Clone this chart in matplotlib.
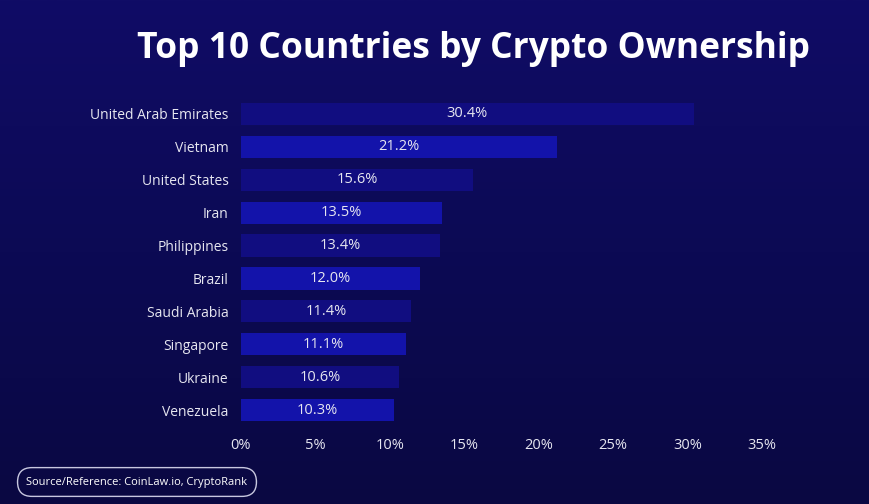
import numpy as np
import matplotlib.pyplot as plt
from matplotlib.colors import LinearSegmentedColormap

countries = ['United Arab Emirates', 'Vietnam', 'United States', 'Iran', 'Philippines',
             'Brazil', 'Saudi Arabia', 'Singapore', 'Ukraine', 'Venezuela']
ownership = [30.4, 21.2, 15.6, 13.5, 13.4, 12.0, 11.4, 11.1, 10.6, 10.3]
xticks = [0, 5, 10, 15, 20, 25, 30, 35]

plt.rcParams['font.family'] = ['Open Sans', 'DejaVu Sans']

fig = plt.figure(figsize=(8.7, 5.04), dpi=100)

# fondo con degradado vertical
bg = fig.add_axes([0, 0, 1, 1])
grad = LinearSegmentedColormap.from_list('bg', ['#0a0842', '#0c0a54', '#100c66'])
bg.imshow(np.linspace(0, 1, 256).reshape(-1, 1), aspect='auto', cmap=grad,
          origin='lower', extent=[0, 1, 0, 1])
bg.set_xlim(0, 1)
bg.set_ylim(0, 1)
bg.axis('off')

fig.text(474 / 870, 1 - 49 / 504, 'Top 10 Countries by Crypto Ownership', color='white',
         fontsize=25.5, fontweight='bold', ha='center', va='center')

ax = fig.add_axes([241 / 870, 1 - 430 / 504, (762 - 241) / 870, (430 - 94) / 504])
ax.set_facecolor('none')
y = np.arange(len(countries))
colors = ['#110d80' if i % 2 == 0 else '#1313aa' for i in range(len(countries))]
bars = ax.barh(y, ownership, height=0.67, color=colors)
for b, v in zip(bars, ownership):
    ax.text(v / 2, b.get_y() + b.get_height() / 2, f'{v:.1f}%', color='#e6e6f0',
            fontsize=10.5, ha='center', va='center')

ax.set_xlim(0, 35)
ax.set_ylim(len(countries) - 0.4, -0.6)
ax.set_yticks(y)
ax.set_yticklabels(countries, color='#e6e6f0', fontsize=10)
ax.set_xticks(xticks)
ax.set_xticklabels([f'{t}%' for t in xticks], color='#e6e6f0', fontsize=10.5)
ax.tick_params(length=0, pad=9)
ax.tick_params(axis='x', pad=6)
for s in ax.spines.values():
    s.set_visible(False)

# recuadro de la fuente
fig.text(137 / 870, 1 - 482 / 504, 'Source/Reference: CoinLaw.io, CryptoRank',
         color='white', fontsize=8, ha='center', va='center',
         bbox=dict(boxstyle='round,pad=0.8,rounding_size=1.3', fc='none',
                   ec='#c8c8e0', lw=1.0))

fig.savefig('out.png', dpi=100)
